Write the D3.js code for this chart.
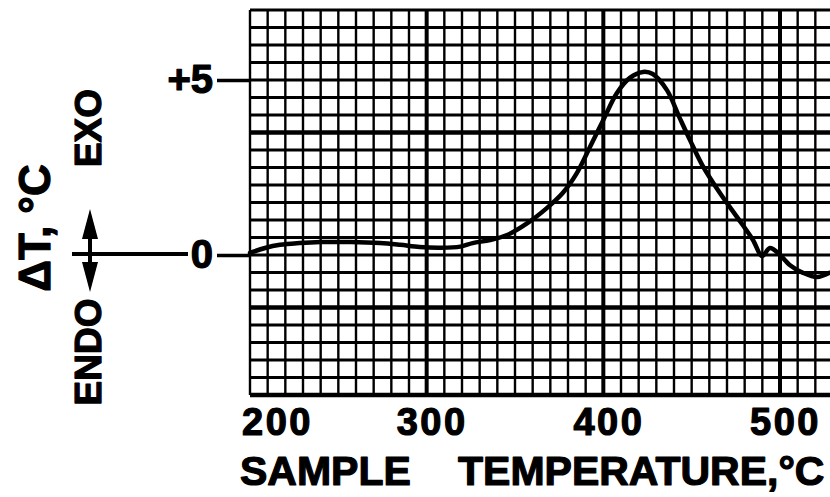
<!DOCTYPE html>
<html>
<head>
<meta charset="utf-8">
<script src="https://cdn.jsdelivr.net/npm/d3@7"></script>
<style>
  html, body { margin: 0; padding: 0; background: #fff; }
  svg { display: block; }
  text { font-family: "Liberation Sans", Arial, sans-serif; font-weight: 700; fill: #000; }
</style>
</head>
<body>
<svg id="chart" width="830" height="497"></svg>
<script>
// ---- data ----
const temps = [200, 208.5, 217, 228, 240, 257, 273.6, 285, 296, 307.5, 319, 326, 336, 345.5, 357, 368, 377, 385, 392.5, 400, 407.7, 415, 422.5, 428, 436, 443, 449, 456, 466, 475.6, 484.7, 489.8, 494.3, 498.9, 505.7, 513, 521, 528];
const deltaT = [0.06, 0.2, 0.29, 0.34, 0.37, 0.37, 0.34, 0.29, 0.23, 0.21, 0.24, 0.34, 0.43, 0.57, 0.91, 1.34, 1.77, 2.34, 3.09, 3.86, 4.63, 5.06, 5.23, 5.17, 4.71, 3.94, 3.29, 2.57, 1.77, 1.09, 0.43, -0.03, 0.2, 0.06, -0.29, -0.51, -0.63, -0.51];
const xTickValues = [200, 300, 400, 500];
const yTickValues = [5, 0];
const yTickLabels = ["+5", "0"];
const xTitleWords = ["SAMPLE", "TEMPERATURE,°C"];
const yTitle = "ΔT, °C";
const exoLabel = "EXO";
const endoLabel = "ENDO";

(function () {
// ---- layout ----
const svg = d3.select("#chart");
const pLeft = 250, pRight = 830, pTop = 10, pBottom = 395;
const x = d3.scaleLinear().domain([200, 500]).range([250, 780]);
const y = d3.scaleLinear().domain([-4, 7]).range([395, 10]);

// ---- grid (chart paper) ----
const grid = svg.append("g");
const vLines = d3.range(200, x.invert(pRight) + 0.01, 10);
const hLines = d3.range(-4, 7.01, 0.5);
const isMajorH = d => Math.abs(d - 3.5) < 1e-6 || Math.abs(d + 1.5) < 1e-6 || d === -4;
grid.selectAll("line.h").data(hLines).join("line")
  .attr("x1", pLeft).attr("x2", pRight)
  .attr("y1", d => y(d)).attr("y2", d => y(d))
  .attr("stroke", "#000")
  .attr("stroke-width", d => isMajorH(d) ? 4.5 : 3);
grid.selectAll("line.v").data(vLines).join("line")
  .attr("x1", d => x(d)).attr("x2", d => x(d))
  .attr("y1", pTop).attr("y2", pBottom)
  .attr("stroke", "#000")
  .attr("stroke-width", d => (d % 100 === 0 && d !== 200) ? 4 : 2.4);

// ---- curve ----
const pts = temps.map((t, i) => [t, deltaT[i]]);
svg.append("path")
  .datum(pts)
  .attr("fill", "none")
  .attr("stroke", "#000")
  .attr("stroke-width", 4.5)
  .attr("stroke-linejoin", "round")
  .attr("stroke-linecap", "round")
  .attr("d", d3.line().x(d => x(d[0])).y(d => y(d[1])).curve(d3.curveCatmullRom.alpha(0.5)));

// ---- x axis labels ----
const xAxis = d3.axisBottom(x).tickValues(xTickValues).tickSize(0).tickPadding(13).tickFormat(d3.format("d"));
const gx = svg.append("g").attr("transform", `translate(0,${pBottom})`).call(xAxis);
gx.select(".domain").remove();
gx.selectAll("text")
  .attr("font-size", 38).attr("font-family", "Liberation Sans, Arial, sans-serif").attr("font-weight", 700)
  .attr("letter-spacing", 2.5)
  .attr("stroke", "#000").attr("stroke-width", 1.2).attr("stroke-linejoin", "round")
  .attr("dx", d => d === 200 ? 27 : 5);

// ---- y axis labels ----
const yAxis = d3.axisLeft(y).tickValues(yTickValues).tickSize(33).tickPadding(4)
  .tickFormat((d, i) => yTickLabels[i]);
const gy = svg.append("g").attr("transform", `translate(${pLeft},0)`).call(yAxis);
gy.select(".domain").remove();
gy.selectAll(".tick line").attr("stroke", "#000").attr("stroke-width", 3.5);
gy.selectAll("text")
  .attr("font-size", 40).attr("font-family", "Liberation Sans, Arial, sans-serif").attr("font-weight", 700)
  .attr("stroke", "#000").attr("stroke-width", 1.2).attr("stroke-linejoin", "round");

// extension of the zero line to the left of "0"
svg.append("line")
  .attr("x1", 72).attr("x2", 188).attr("y1", y(0) - 1).attr("y2", y(0) - 1)
  .attr("stroke", "#000").attr("stroke-width", 4);

// double arrow (EXO up / ENDO down)
const ax = 90, aTop = 209, aBot = 292;
svg.append("line").attr("x1", ax).attr("x2", ax).attr("y1", aTop + 10).attr("y2", aBot - 10)
  .attr("stroke", "#000").attr("stroke-width", 4);
svg.append("path").attr("d", `M${ax},${aTop} L${ax - 8},${aTop + 30} L${ax + 8},${aTop + 30} Z`).attr("fill", "#000");
svg.append("path").attr("d", `M${ax},${aBot} L${ax - 8},${aBot - 30} L${ax + 8},${aBot - 30} Z`).attr("fill", "#000");

// ---- titles ----
const heavy = sel => sel.attr("stroke", "#000").attr("stroke-width", 1.2).attr("stroke-linejoin", "round");
svg.append("text").text(xTitleWords[0])
  .attr("x", 240).attr("y", 485).attr("font-size", 41).call(heavy);
svg.append("text").text(xTitleWords[1])
  .attr("x", 458).attr("y", 485).attr("font-size", 41).call(heavy);

svg.append("text").text(yTitle)
  .attr("transform", "translate(50,228) rotate(-90)")
  .attr("text-anchor", "middle").attr("font-size", 44).call(heavy);
svg.append("text").text(exoLabel)
  .attr("transform", "translate(101,128) rotate(-90)")
  .attr("text-anchor", "middle").attr("font-size", 37).call(heavy);
svg.append("text").text(endoLabel)
  .attr("transform", "translate(101,352) rotate(-90)")
  .attr("text-anchor", "middle").attr("font-size", 37).call(heavy);
})();
</script>
</body>
</html>
